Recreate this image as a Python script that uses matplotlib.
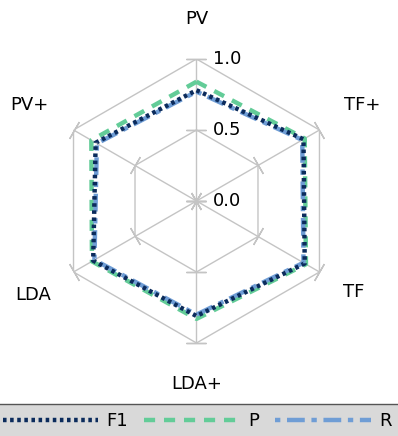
import numpy as np
import matplotlib
matplotlib.use("Agg")
import matplotlib.pyplot as plt

# Kategorien (im Uhrzeigersinn ab oben)
categories = ["PV", "TF+", "TF", "LDA+", "LDA", "PV+"]
f1_values = [0.78, 0.87, 0.88, 0.81, 0.84, 0.82]
p_values = [0.84, 0.88, 0.89, 0.83, 0.85, 0.855]
r_values = [0.77, 0.86, 0.87, 0.80, 0.83, 0.81]
r_ticks = [0.0, 0.5, 1.0]
r_tick_labels = ["0.0", "0.5", "1.0"]

grid_col = "#c4c4c4"
plt.rcParams["font.family"] = "DejaVu Sans"
plt.rcParams["font.size"] = 13

fig = plt.figure(figsize=(3.98, 4.36), dpi=100)
ax = fig.add_axes([0.1369, 0.2133, 0.7136, 0.6514], projection="polar")
ax.set_theta_offset(np.pi / 2)
ax.set_theta_direction(-1)
ax.set_ylim(0, 1)
ax.set_axis_off()

n = len(categories)
theta = np.linspace(0, 2 * np.pi, n, endpoint=False)
theta_c = np.append(theta, theta[0])

# Gitter: Sechsecke und Speichen
for r in [0.5, 1.0]:
    ax.plot(theta_c, [r] * (n + 1), color=grid_col, lw=1, zorder=1)
for t in theta:
    ax.plot([t, t], [0, 1], color=grid_col, lw=1, zorder=1)
    # kleine Querstriche an den Ticks
    phi = np.degrees(np.pi / 2 - t)
    for r in r_ticks:
        ax.plot([t], [r], marker=(2, 2, phi), markersize=14, color=grid_col,
                mew=1, ls="none", zorder=1, clip_on=False)

for r, lab in zip(r_ticks, r_tick_labels):
    ax.annotate(lab, xy=(0, r), xytext=(12, 0), textcoords="offset points",
                ha="left", va="center", fontsize=13, annotation_clip=False)

# Abstand der Achsenbeschriftungen
label_r = [1.28, 1.346, 1.28, 1.29, 1.324, 1.358]
for t, lab, lr in zip(theta, categories, label_r):
    ax.text(t, lr, lab, ha="center", va="center", fontsize=13, clip_on=False)

def closed(v):
    return list(v) + [v[0]]

ax.plot(theta_c, closed(r_values), color="#6f9dd5", lw=3.2,
        dashes=(1.2, 1.5, 4, 1.5), label="R", zorder=3)
ax.plot(theta_c, closed(p_values), color="#63cc98", lw=3.2,
        dashes=(2.5, 2), label="P", zorder=2)
ax.plot(theta_c, closed(f1_values), color="#0b2b5c", lw=3.2,
        dashes=(0.8, 0.8), label="F1", zorder=4)

handles, labels = ax.get_legend_handles_labels()
order = [2, 1, 0]
leg = fig.legend([handles[i] for i in order], [labels[i] for i in order],
                 loc="lower center", bbox_to_anchor=(0.495, -0.006), ncol=3,
                 handlelength=5.3, handletextpad=0.45, columnspacing=0.9,
                 borderpad=0.45, borderaxespad=0, fancybox=False, framealpha=1,
                 facecolor="#d9d9d9", edgecolor="#555555", fontsize=13)
leg.get_frame().set_linewidth(1)

fig.savefig("out.png", dpi=100)
